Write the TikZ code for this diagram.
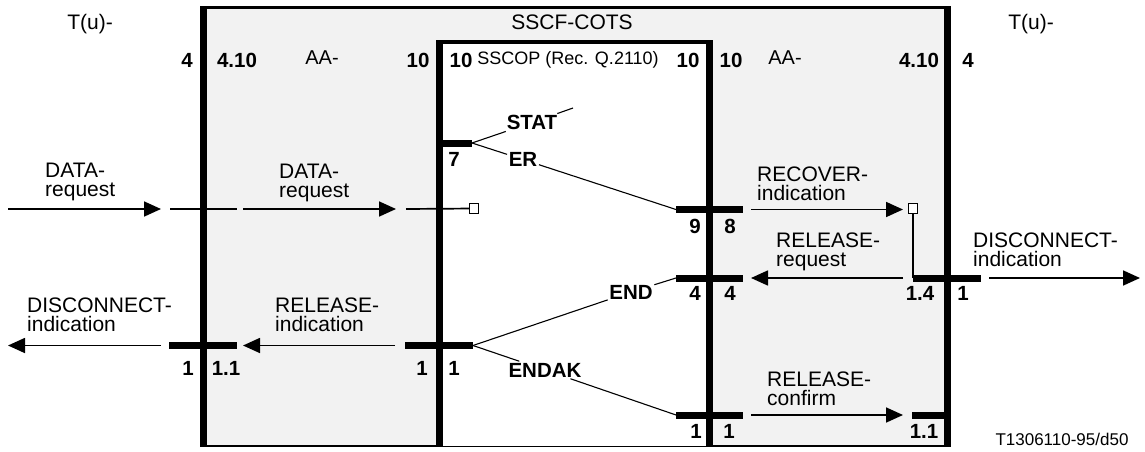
\documentclass[tikz,border=0pt]{standalone}
\usepackage{fontspec}
\setmainfont{Liberation Sans}
\usetikzlibrary{arrows.meta}
\begin{document}
\begin{tikzpicture}[x=1pt,y=-1pt,
  lbl/.style={font=\fontsize{21}{19}\selectfont, align=left, anchor=north west, inner sep=0pt},
  num/.style={font=\fontsize{20.5}{22}\selectfont\bfseries, inner sep=0pt, anchor=base},
  bnum/.style={font=\fontsize{20.5}{22}\selectfont\bfseries, inner sep=1.5pt},
  ttl/.style={font=\fontsize{21}{22}\selectfont, inner sep=0pt, anchor=base},
  sig/.style={line width=1.7pt, -{Triangle[length=17pt,width=15pt]}},
  thinl/.style={line width=1.7pt},
  diag/.style={line width=1.1pt},
  stub/.style={line width=7pt},
  bar/.style={line width=7pt},
  sq/.style={draw, line width=0.9pt, fill=white, minimum size=9.5pt, inner sep=0pt}
]
\useasboundingbox (0,0) rectangle (1145,452);
% outer box
\fill[gray!10] (203.5,7.5) rectangle (947,445.8);
\draw[line width=2.5pt] (200,7.5) -- (950.5,7.5);
\draw[line width=2.5pt] (200,445.8) -- (950.5,445.8);
\draw[bar] (203.5,6.25) -- (203.5,447);
\draw[bar] (947,6.25) -- (947,447);
% inner box
\fill[white] (439.5,42) rectangle (709.5,445.8);
\draw[line width=3.5pt] (439.5,42) -- (709.5,42);
\draw[bar] (439.5,40.5) -- (439.5,447);
\draw[bar] (709.5,40.5) -- (709.5,447);

% titles
\node[ttl] (tul) at (90,30) {T(u)-};
\node[ttl] (tur) at (1031,30) {T(u)-};
\node[ttl] (sscf) at (572,30) {SSCF-COTS};
\node[ttl, font=\fontsize{20}{22}\selectfont] (aal) at (322,65) {AA-};
\node[ttl, font=\fontsize{20}{22}\selectfont] (aar) at (785,65) {AA-};
\node[ttl, font=\fontsize{18}{22}\selectfont] (sscop) at (568,65) {SSCOP (Rec. Q.2110)};
\node[ttl, font=\fontsize{17}{20}\selectfont] (ref) at (1062,445) {T1306110-95/d50};

% numbers
\node[num] (n1) at (187,67) {4};
\node[num] (n2) at (237,67) {4.10};
\node[num] (n3) at (418,67) {10};
\node[num] (n4) at (461,67) {10};
\node[num] (n5) at (688,67) {10};
\node[num] (n6) at (731,67) {10};
\node[num] (n7) at (919,67) {4.10};
\node[num] (n8) at (968,67) {4};
\node[num] (n9) at (454,166) {7};
\node[num] (n10) at (695,233) {9};
\node[num] (n11) at (730,233) {8};
\node[num] (n12) at (695,300) {4};
\node[num] (n13) at (730,300) {4};
\node[num] (n14) at (920,300) {1.4};
\node[num] (n15) at (963,300) {1};
\node[num] (n16) at (188,375) {1};
\node[num] (n17) at (226,375) {1.1};
\node[num] (n18) at (422,375) {1};
\node[num] (n19) at (454,375) {1};
\node[num] (n20) at (696,438) {1};
\node[num] (n21) at (729,438) {1};
\node[num] (n22) at (924,438) {1.1};

% stubs
\coordinate (s7w) at (443,143);  \coordinate (s7e) at (472,143);
\draw[stub] (s7w) -- (s7e);
\coordinate (r1w) at (676,209.5); \coordinate (r1e) at (743,209.5);
\draw[stub] (r1w) -- (r1e);
\coordinate (r2w) at (676,278); \coordinate (r2e) at (743,278);
\draw[stub] (r2w) -- (r2e);
\coordinate (r3w) at (676,415); \coordinate (r3e) at (743,415);
\draw[stub] (r3w) -- (r3e);
\coordinate (l1w) at (405,345.5); \coordinate (l1e) at (473,345.5);
\draw[stub] (l1w) -- (l1e);
\coordinate (o1w) at (169,345.5); \coordinate (o1e) at (237,345.5);
\draw[stub] (o1w) -- (o1e);
\coordinate (o2w) at (913,278); \coordinate (o2e) at (981,278);
\draw[stub] (o2w) -- (o2e);
\coordinate (o3w) at (912,415); \coordinate (o3e) at (947,415);
\draw[stub] (o3w) -- (o3e);

% diagonal labels and lines
\node[bnum] (stat) at (532,122.5) {STAT};
\node[bnum] (er) at (523,159.5) {ER};
\node[bnum] (endn) at (631,292) {END};
\node[bnum] (endak) at (545,370) {ENDAK};
\coordinate (statend) at (573,108);
\draw[diag] (s7e) -- (stat);
\draw[diag] (stat) -- (statend);
\draw[diag] (s7e) -- (er);
\draw[diag] (er) -- (r1w);
\draw[diag] (l1e) -- (endn);
\draw[diag] (endn) -- (r2w);
\draw[diag] (l1e) -- (endak);
\draw[diag] (endak) -- (r3w);

% small squares
\node[sq] (sqa) at (474,208.5) {};
\node[sq] (sqb) at (913,208.5) {};

% DATA-request
\coordinate (d1a) at (8,209); \coordinate (d1b) at (161,209);
\draw[sig] (d1a) -- (d1b);
\node[lbl] (ld1) at (45,163) {DATA-\\request};
\coordinate (d2a) at (170,209); \coordinate (d2b) at (237,209);
\draw[thinl] (d2a) -- (d2b);
\coordinate (d3a) at (243,209); \coordinate (d3b) at (396,209);
\draw[sig] (d3a) -- (d3b);
\node[lbl] (ld2) at (279,164) {DATA-\\request};
\coordinate (d4a) at (406,209);
\draw[thinl] (d4a) -- (sqa);

% RECOVER-indication
\coordinate (rc1) at (751,209.5); \coordinate (rc2) at (903,209.5);
\draw[sig] (rc1) -- (rc2);
\node[lbl] (lrc) at (757,167) {RECOVER-\\indication};
\coordinate (sqbdown) at (913,278);
\draw[line width=1.5pt] (sqb) -- (sqbdown);

% RELEASE-request
\coordinate (rq1) at (903,278); \coordinate (rq2) at (751,278);
\draw[sig] (rq1) -- (rq2);
\node[lbl] (lrq) at (776,233) {RELEASE-\\request};

% DISCONNECT-indication right
\coordinate (di1) at (989,278); \coordinate (di2) at (1140,278);
\draw[sig] (di1) -- (di2);
\node[lbl] (ldi) at (973,233) {DISCONNECT-\\indication};

% RELEASE-indication
\coordinate (ri1) at (395,345.5); \coordinate (ri2) at (243,345.5);
\draw[sig] (ri1) -- (ri2);
\node[lbl] (lri) at (275,298) {RELEASE-\\indication};

% DISCONNECT-indication left
\coordinate (dl1) at (161,345.5); \coordinate (dl2) at (8,345.5);
\draw[sig] (dl1) -- (dl2);
\node[lbl] (ldl) at (27,298) {DISCONNECT-\\indication};

% RELEASE-confirm
\coordinate (cf1) at (751,415); \coordinate (cf2) at (903,415);
\draw[sig] (cf1) -- (cf2);
\node[lbl] (lcf) at (767,372) {RELEASE-\\confirm};
\end{tikzpicture}
\end{document}
